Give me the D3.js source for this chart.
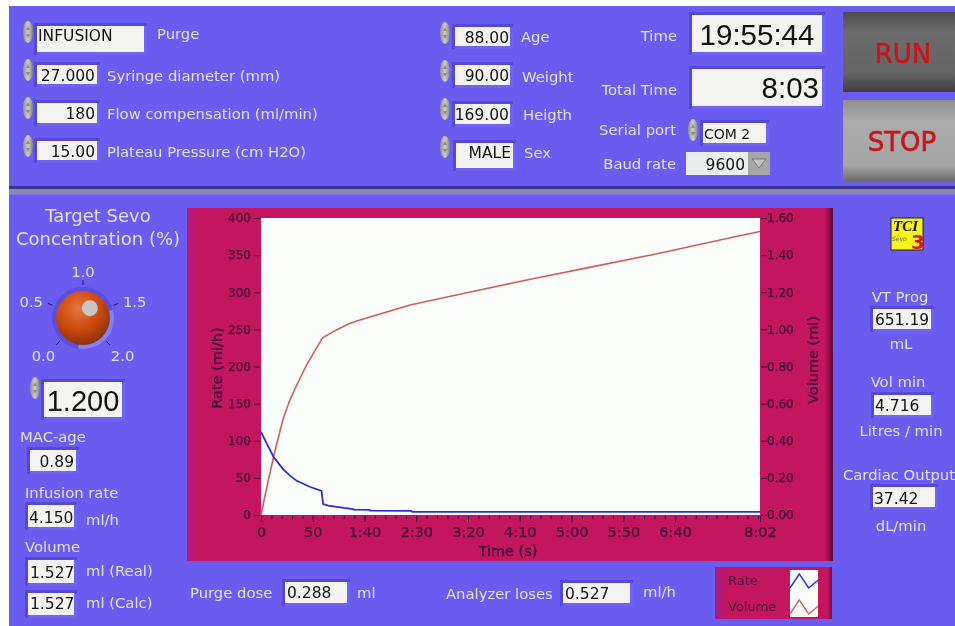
<!DOCTYPE html>
<html>
<head>
<meta charset="utf-8">
<script src="https://cdnjs.cloudflare.com/ajax/libs/d3/7.8.5/d3.min.js"></script>
<style>
  html, body { margin: 0; padding: 0; background: #fff; }
  svg { display: block; font-family: "DejaVu Sans", sans-serif; filter: blur(0.35px); }
  .lbl { fill: #e2e0fa; font-size: 14.8px; }
  .val { fill: #111; font-size: 15.5px; }
  .big { fill: #111; font-family: "Liberation Sans", sans-serif; }
  .axis text { fill: #3a0a38; stroke: #3a0a38; stroke-width: 0.25px; font-family: "DejaVu Sans", sans-serif; }
  .axis path { display: none; }
  .axis line { stroke: #3a0a38; }
  .title { fill: #3a0a38; stroke: #3a0a38; stroke-width: 0.3px; font-size: 14.5px; }
</style>
</head>
<body>
<svg id="chart" width="955" height="626"></svg>
<script>
// Infusion time (s) and rate (ml/h)
var rate_time = [0, 5.5, 12, 21.5, 28, 34.5, 47, 58.5, 60, 65, 71.5, 80, 89, 89.5, 105, 105.5, 145, 146, 482];
var rate_vals = [112, 96.5, 78.5, 61.5, 53, 46, 38, 32.3, 14.8, 12.5, 11.2, 9.5, 8, 7.2, 7, 5.8, 5.6, 4.4, 4.15];

// Volume (ml)
var vol_time = [0, 7, 13.5, 21.5, 28, 34.5, 44, 52, 59.5, 71.5, 84.4, 95.6, 144, 192, 256.7, 321, 385, 450, 482];
var vol_vals = [0, 0.185, 0.345, 0.521, 0.62, 0.70, 0.808, 0.884, 0.955, 0.993, 1.029, 1.05, 1.131, 1.189, 1.266, 1.338, 1.41, 1.49, 1.527];

var x_ticks = [0, 50, 100, 150, 200, 250, 300, 350, 400, 482];
var x_labels = ["0", "50", "1:40", "2:30", "3:20", "4:10", "5:00", "5:50", "6:40", "8:02"];
var rate_ticks = [0, 50, 100, 150, 200, 250, 300, 350, 400];
var vol_ticks = [0, 0.2, 0.4, 0.6, 0.8, 1.0, 1.2, 1.4, 1.6];

var knob_ticks = [0, 0.5, 1.0, 1.5, 2.0];
var knob_value = 1.2;

var legend_names = ["Rate", "Volume"];
var legend_shape = [0, 1, 0, 0.55];

var rate_color = "#2b2be6";
var vol_color = "#cf5f5c";

var svg = d3.select("#chart");
var defs = svg.append("defs");

function grad(id, horizontal, stops) {
  var g = defs.append("linearGradient").attr("id", id)
    .attr("x1", 0).attr("y1", 0).attr("x2", horizontal ? 1 : 0).attr("y2", horizontal ? 0 : 1);
  stops.forEach(function(s) {
    g.append("stop").attr("offset", s[0]).attr("stop-color", s[1]);
  });
}
grad("runFill", false, [[0, "#4c4c4c"], [0.25, "#6c6c6c"], [0.75, "#656565"], [1, "#3e3e3e"]]);
grad("stopFill", false, [[0, "#8f8f8f"], [0.25, "#ababab"], [0.8, "#a6a6a6"], [1, "#6d6d6d"]]);
grad("panelFill", true, [[0, "#b3197a"], [0.02, "#c4155f"], [0.988, "#c4155f"], [1, "#5a0830"]]);
grad("legendFill", true, [[0, "#a81a80"], [0.12, "#c4155f"], [0.96, "#c4155f"], [1, "#7a0c42"]]);
grad("spinFill", true, [[0, "#8e8e8e"], [0.5, "#cfcfc8"], [1, "#7e7e7e"]]);

var knobGrad = defs.append("radialGradient").attr("id", "knobFill")
  .attr("cx", 0.42).attr("cy", 0.32).attr("r", 0.75);
knobGrad.append("stop").attr("offset", 0).attr("stop-color", "#e8743e");
knobGrad.append("stop").attr("offset", 0.55).attr("stop-color", "#c8480f");
knobGrad.append("stop").attr("offset", 1).attr("stop-color", "#7f2c06");

// Window panels
svg.append("rect").attr("x", 9).attr("y", 6).attr("width", 946).attr("height", 620).attr("fill", "#6a5cef");
svg.append("rect").attr("x", 9).attr("y", 186).attr("width", 946).attr("height", 3).attr("fill", "#3d3596");
svg.append("rect").attr("x", 9).attr("y", 189).attr("width", 946).attr("height", 5).attr("fill", "#8d8b9f");
svg.append("rect").attr("x", 9).attr("y", 194).attr("width", 946).attr("height", 1).attr("fill", "#7d70f5");

function label(x, y, txt, anchor, size) {
  var t = svg.append("text").attr("class", "lbl").attr("x", x).attr("y", y)
    .attr("text-anchor", anchor || "start").text(txt);
  if (size) t.style("font-size", size + "px");
}

function field(x0, y0, x1, y1) {
  svg.append("rect").attr("x", x0 - 3).attr("y", y0 - 3).attr("width", x1 - x0 + 6).attr("height", y1 - y0 + 6).attr("fill", "#7063f2");
  svg.append("path").attr("d", "M" + (x0 - 3) + "," + (y1 + 3) + "V" + (y0 - 3) + "H" + (x1 + 3) + "V" + y0 + "H" + x0 + "V" + (y1 + 3) + "Z").attr("fill", "#5548d6");
  svg.append("rect").attr("x", x0).attr("y", y0).attr("width", x1 - x0).attr("height", y1 - y0).attr("fill", "#f3f4f1");
}

function value(x, y, txt, anchor, size) {
  var t = svg.append("text").attr("class", "val").attr("x", x).attr("y", y)
    .attr("text-anchor", anchor || "end").text(txt);
  if (size) t.style("font-size", size + "px");
}

function spinner(x, y) {
  svg.append("ellipse").attr("cx", x).attr("cy", y).attr("rx", 5).attr("ry", 11).attr("fill", "url(#spinFill)");
  svg.append("path").attr("d", "M" + (x - 2) + "," + (y - 2) + "L" + x + "," + (y - 6) + "L" + (x + 2) + "," + (y - 2) + "Z").attr("fill", "#8a8a8a");
  svg.append("path").attr("d", "M" + (x - 2) + "," + (y + 2) + "L" + x + "," + (y + 6) + "L" + (x + 2) + "," + (y + 2) + "Z").attr("fill", "#8a8a8a");
}

// Top left controls
spinner(28, 32); spinner(28, 70); spinner(28, 108); spinner(28, 146);
field(37, 26, 144, 52); value(38, 41, "INFUSION", "start");
label(157, 39, "Purge");
field(37, 65, 97, 84); value(95, 81, "27.000");
label(107, 81, "Syringe diameter (mm)");
field(37, 103, 97, 123); value(95, 119, "180");
label(107, 119, "Flow compensation (ml/min)");
field(37, 141, 97, 160); value(95, 157, "15.00");
label(107, 157, "Plateau Pressure (cm H2O)");

// Patient controls
spinner(445, 33); spinner(445, 71); spinner(445, 109); spinner(445, 147);
field(455, 27, 510, 46); value(509, 43, "88.00");
label(521, 42, "Age");
field(455, 65, 510, 85); value(509, 81, "90.00");
label(522, 82, "Weight");
field(455, 104, 510, 124); value(509, 120, "169.00");
label(523, 120, "Heigth");
field(456, 143, 513, 168); value(511, 158, "MALE");
label(524, 158, "Sex");

// Time and port
label(677, 41, "Time", "end");
field(692, 15, 822, 52);
svg.append("text").attr("class", "big").attr("x", 757).attr("y", 45).attr("text-anchor", "middle").style("font-size", "29.5px").text("19:55:44");
label(677, 95, "Total Time", "end");
field(692, 69, 822, 106);
svg.append("text").attr("class", "big").attr("x", 819).attr("y", 98).attr("text-anchor", "end").style("font-size", "29.5px").text("8:03");
label(676, 135, "Serial port", "end");
spinner(693, 130);
field(703, 123, 766, 143); value(704, 139, "COM 2", "start", 14);
label(676, 169, "Baud rate", "end");
svg.append("rect").attr("x", 686).attr("y", 152).attr("width", 62).attr("height", 23).attr("fill", "#eceded");
svg.append("rect").attr("x", 748).attr("y", 152).attr("width", 22).attr("height", 23).attr("fill", "#a6a6a6");
svg.append("path").attr("d", "M752,159H766L759,168Z").attr("fill", "#c4c4c4").attr("stroke", "#777");
value(745, 170, "9600");

// Buttons
svg.append("rect").attr("x", 843).attr("y", 12).attr("width", 112).attr("height", 80).attr("fill", "url(#runFill)");
svg.append("rect").attr("x", 843).attr("y", 100).attr("width", 112).attr("height", 81).attr("fill", "url(#stopFill)");
svg.append("text").attr("x", 903).attr("y", 63).attr("text-anchor", "middle").attr("fill", "#c8141b").attr("stroke", "#c8141b").attr("stroke-width", 0.6).style("font-size", "26px").text("RUN");
svg.append("text").attr("x", 902).attr("y", 151).attr("text-anchor", "middle").attr("fill", "#c8141b").attr("stroke", "#c8141b").attr("stroke-width", 0.6).style("font-size", "26px").text("STOP");

// Target concentration knob
label(98, 222, "Target Sevo", "middle", 18);
label(98, 245, "Concentration (%)", "middle", 18);

var knobAngle = d3.scaleLinear().domain([0, 2]).range([-135, 135]);
function polarX(v, r) { return 83 + r * Math.sin(knobAngle(v) * Math.PI / 180); }
function polarY(v, r, cy) { return (cy || 318) - r * Math.cos(knobAngle(v) * Math.PI / 180); }

svg.append("circle").attr("cx", 83).attr("cy", 318).attr("r", 31).attr("fill", "#4a3fc9").attr("opacity", 0.45);
svg.append("path").attr("d", d3.arc().innerRadius(26).outerRadius(31).startAngle(1.3).endAngle(3.3)()).attr("transform", "translate(83,318)").attr("fill", "#9d96f6").attr("opacity", 0.7);

svg.selectAll(".knobTick").data(knob_ticks).enter().append("line")
  .attr("class", "knobTick").attr("stroke", "#1d1a50").attr("stroke-width", 1)
  .attr("x1", function(d) { return polarX(d, 33); })
  .attr("y1", function(d) { return polarY(d, 33); })
  .attr("x2", function(d) { return polarX(d, 38); })
  .attr("y2", function(d) { return polarY(d, 38); });

svg.selectAll(".knobLabel").data(knob_ticks).enter().append("text")
  .attr("class", "lbl knobLabel").attr("text-anchor", "middle")
  .attr("x", function(d) { return polarX(d, 56); })
  .attr("y", function(d) { return polarY(d, 49, 321) + 5; })
  .text(function(d) { return d.toFixed(1); });

svg.append("circle").attr("cx", 83).attr("cy", 318).attr("r", 27).attr("fill", "url(#knobFill)");
svg.append("circle").attr("cx", polarX(knob_value, 15)).attr("cy", polarY(knob_value, 11)).attr("r", 8).attr("fill", "#c6c6c2");

spinner(35, 388);
field(44, 382, 122, 417);
svg.append("text").attr("class", "big").attr("x", 83).attr("y", 411).attr("text-anchor", "middle").style("font-size", "29px").text("1.200");

// Left readouts
label(20, 442, "MAC-age");
field(30, 450, 76, 471); value(74, 467, "0.89");
label(25, 498, "Infusion rate");
field(28, 505, 74, 527); value(29, 523, "4.150", "start");
label(86, 525, "ml/h");
label(25, 552, "Volume");
field(28, 560, 74, 583); value(30, 578, "1.527", "start");
label(86, 576, "ml (Real)");
field(28, 593, 74, 615); value(30, 609, "1.527", "start");
label(86, 608, "ml (Calc)");

// Chart panel
var plot = {left: 261, right: 760, top: 218, bottom: 515};
svg.append("rect").attr("x", 187).attr("y", 208).attr("width", 646).attr("height", 353).attr("fill", "url(#panelFill)");
svg.append("rect").attr("x", plot.left).attr("y", plot.top).attr("width", plot.right - plot.left).attr("height", plot.bottom - plot.top).attr("fill", "#fbfefb");

var x = d3.scaleLinear().domain([0, 482]).range([plot.left, plot.right]);
var yRate = d3.scaleLinear().domain([0, 400]).range([plot.bottom, plot.top]);
var yVol = d3.scaleLinear().domain([0, 1.6]).range([plot.bottom, plot.top]);

var xAxis = d3.axisBottom(x).tickValues(x_ticks).tickSize(6).tickPadding(5)
  .tickFormat(function(d, i) { return x_labels[i]; });
var xMinor = d3.axisBottom(x).tickValues(d3.range(0, 482, 10)).tickSize(3).tickFormat("");
var yAxisL = d3.axisLeft(yRate).tickValues(rate_ticks).tickSize(6).tickPadding(3);
var yAxisR = d3.axisRight(yVol).tickValues(vol_ticks).tickSize(6).tickPadding(0).tickFormat(d3.format(".2f"));

svg.append("g").attr("class", "axis").attr("transform", "translate(0," + (plot.bottom + 1) + ")").call(xMinor);
svg.append("g").attr("class", "axis").attr("transform", "translate(0," + (plot.bottom + 1) + ")").call(xAxis)
  .selectAll("text").style("font-size", "14.5px");
svg.append("g").attr("class", "axis").attr("transform", "translate(" + (plot.left - 1) + ",0)").call(yAxisL)
  .selectAll("text").style("font-size", "12px");
svg.append("g").attr("class", "axis").attr("transform", "translate(" + (plot.right + 1) + ",0)").call(yAxisR)
  .selectAll("text").style("font-size", "12px");

svg.append("text").attr("class", "title").attr("text-anchor", "middle").attr("x", 508).attr("y", 556).text("Time (s)");
svg.append("text").attr("class", "title").attr("text-anchor", "middle").attr("transform", "translate(222,368) rotate(-90)").text("Rate (ml/h)");
svg.append("text").attr("class", "title").attr("text-anchor", "middle").attr("transform", "translate(818,360) rotate(-90)").text("Volume (ml)");

var rateLine = d3.line()
  .x(function(d, i) { return x(rate_time[i]); })
  .y(function(d) { return yRate(d); });
var volLine = d3.line()
  .x(function(d, i) { return x(vol_time[i]); })
  .y(function(d) { return yVol(d); });

svg.append("path").datum(vol_vals).attr("d", volLine).attr("fill", "none").attr("stroke", vol_color).attr("stroke-width", 1.6);
svg.append("path").datum(rate_vals).attr("d", rateLine).attr("fill", "none").attr("stroke", rate_color).attr("stroke-width", 1.8);

// Bottom readouts
label(190, 598, "Purge dose");
field(285, 582, 347, 603); value(287, 598, "0.288", "start");
label(357, 598, "ml");
label(446, 599, "Analyzer loses");
field(563, 583, 630, 603); value(565, 599, "0.527", "start");
label(643, 597, "ml/h");

// Legend
svg.append("rect").attr("x", 715).attr("y", 567).attr("width", 117).attr("height", 52).attr("fill", "url(#legendFill)");
svg.append("rect").attr("x", 790).attr("y", 570).attr("width", 28).attr("height", 47).attr("fill", "#fbfefb");
var legendX = d3.scaleLinear().domain([0, legend_shape.length - 1]).range([790, 818]);
var legendColors = [rate_color, vol_color];
legend_names.forEach(function(name, k) {
  var rowY = 584 + k * 26;
  svg.append("text").attr("x", 728).attr("y", rowY + 1).attr("fill", "#4a0d3e").style("font-size", "13px").text(name);
  var legendY = d3.scaleLinear().domain([0, 1]).range([rowY + 4, rowY - 10]);
  var legendLine = d3.line().x(function(d, i) { return legendX(i); }).y(function(d) { return legendY(d); });
  svg.append("path").datum(legend_shape).attr("d", legendLine).attr("fill", "none").attr("stroke", legendColors[k]).attr("stroke-width", 1.4);
});

// Logo
svg.append("rect").attr("x", 891).attr("y", 218).attr("width", 32).attr("height", 32).attr("fill", "#f7f31c").attr("stroke", "#222");
svg.append("text").attr("x", 893).attr("y", 231).attr("fill", "#111").style("font-family", "Liberation Serif").style("font-style", "italic").style("font-weight", "bold").style("font-size", "15px").text("TCI");
svg.append("text").attr("x", 892).attr("y", 241).attr("fill", "#6b6b3a").style("font-size", "6px").style("font-style", "italic").text("Sevo");
svg.append("text").attr("x", 911).attr("y", 249).attr("fill", "#d8181c").style("font-weight", "bold").style("font-size", "20px").text("3");

// Right readouts
label(900, 302, "VT Prog", "middle");
field(873, 309, 931, 329); value(902, 325, "651.19", "middle");
label(901, 349, "mL", "middle");
label(898, 387, "Vol min", "middle");
field(874, 395, 931, 415); value(875, 411, "4.716", "start");
label(901, 436, "Litres / min", "middle");
label(899, 480, "Cardiac Output", "middle");
field(873, 487, 935, 507); value(874, 504, "37.42", "start");
label(901, 531, "dL/min", "middle");
</script>
</body>
</html>
